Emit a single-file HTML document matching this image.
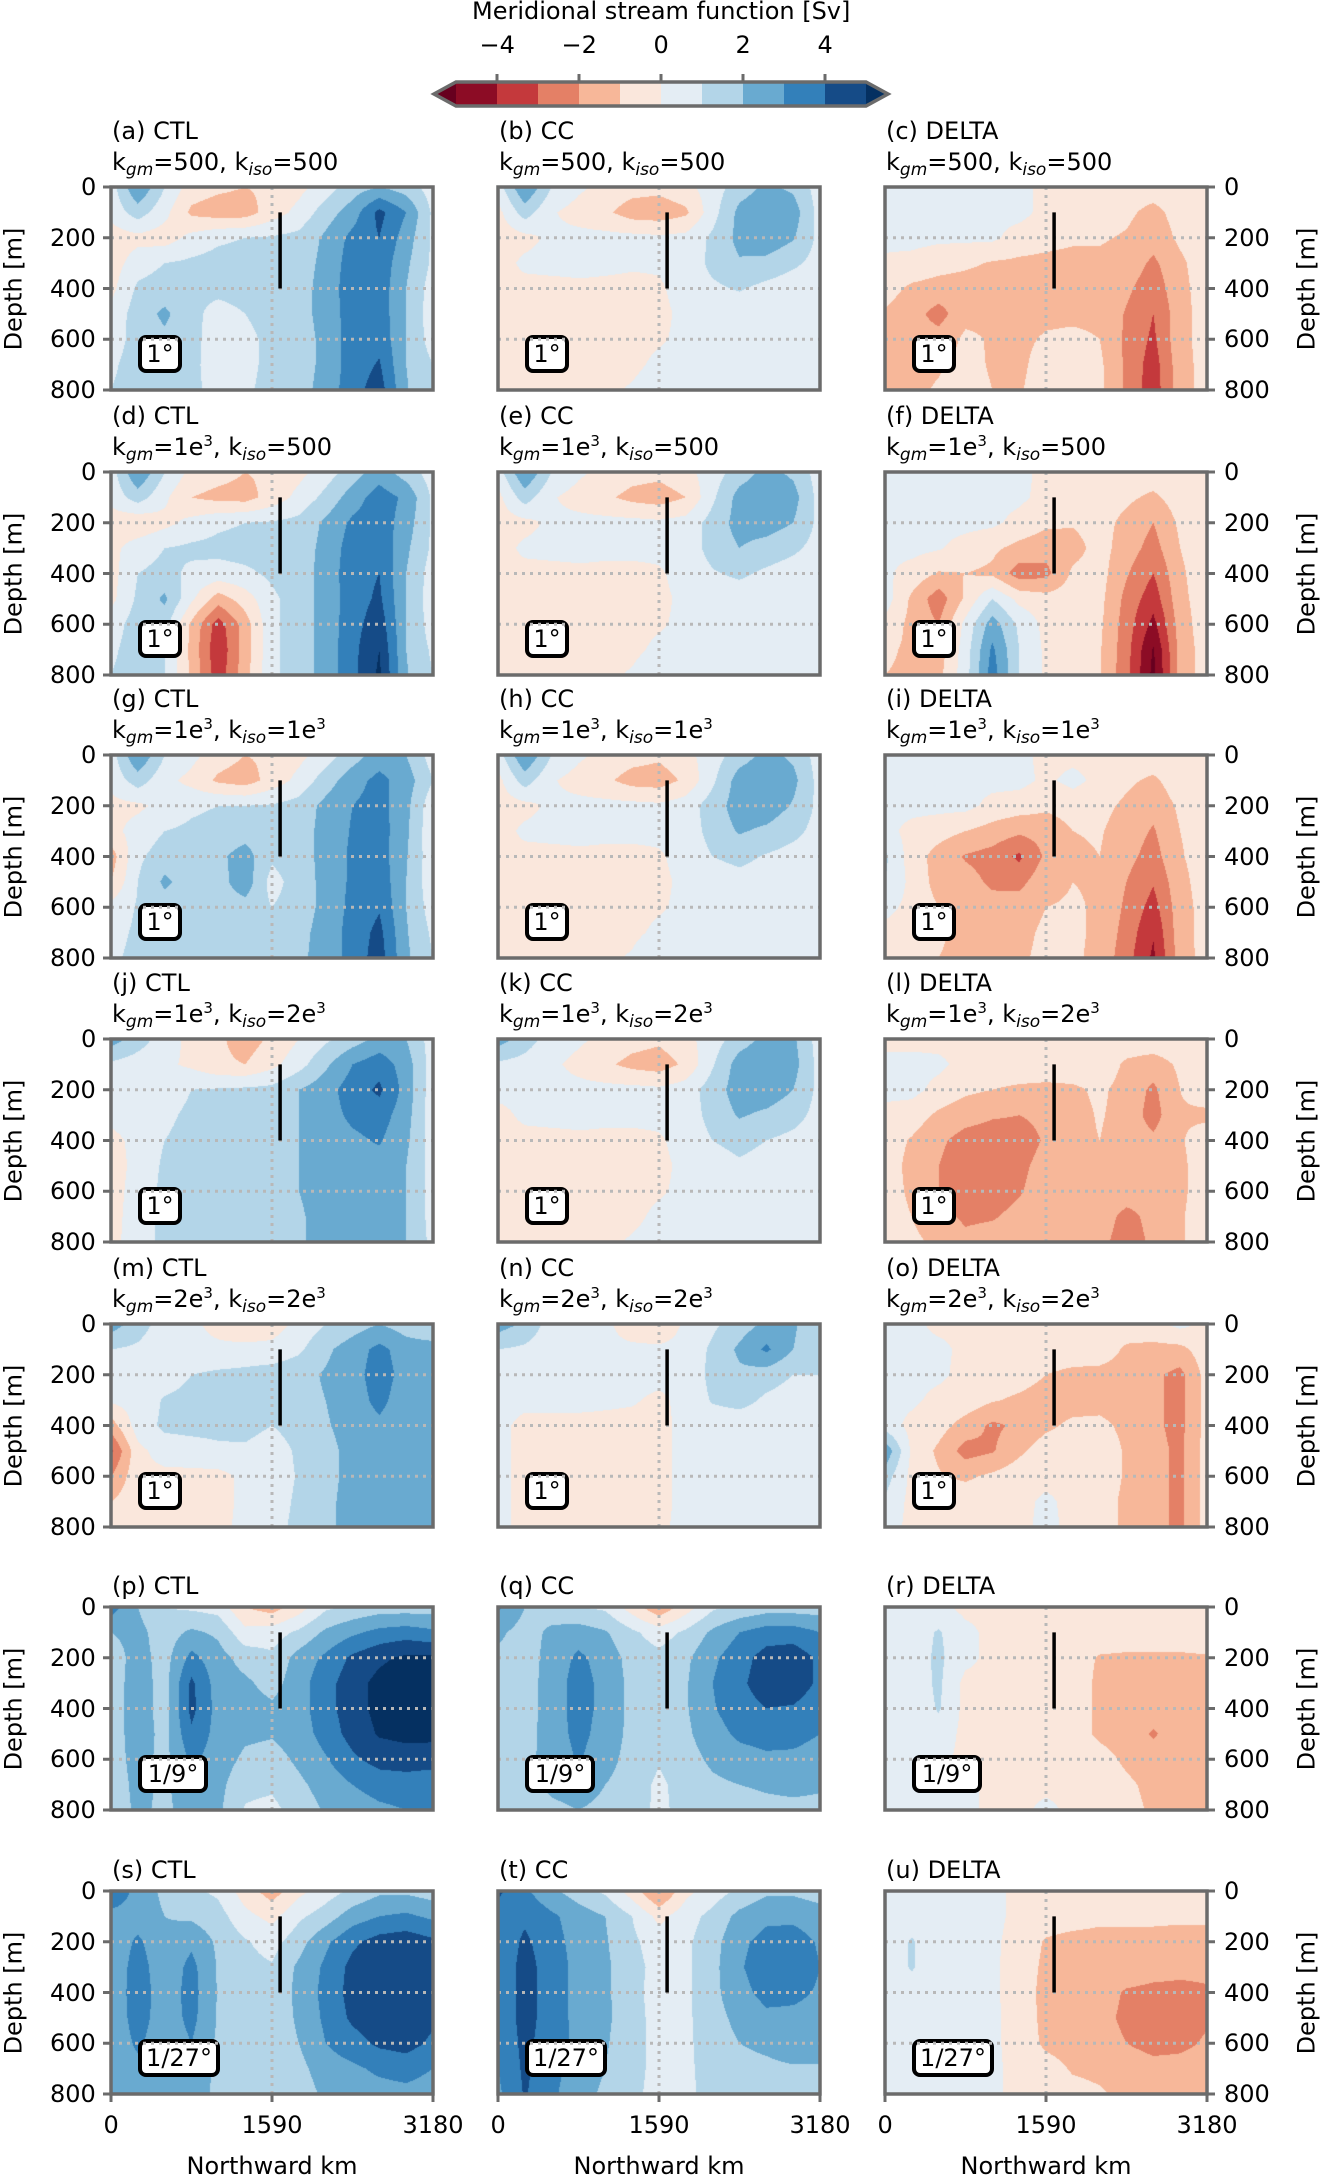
<!DOCTYPE html>
<html><head><meta charset="utf-8">
<style>
html,body{margin:0;padding:0;background:#fff;}
#root{position:relative;width:1321px;height:2180px;overflow:hidden;font-family:"DejaVu Sans","Liberation Sans",sans-serif;color:#000;}
.t{position:absolute;font-size:24px;white-space:nowrap;line-height:1;}
canvas{position:absolute;}
svg{position:absolute;left:0;top:0;}
.box{position:absolute;border:4px solid #000;border-radius:8px;background:#fff;font-size:24px;display:flex;align-items:center;justify-content:center;box-sizing:border-box;}
</style></head>
<body>
<div id="root"></div>
<script>
// ---------- data ----------
const levels=[-5,-4,-3,-2,-1,0,1,2,3,4,5];
const levelColors=['#8c0c25','#c4393c','#e48066','#f7b799','#fae7dc','#e4edf4','#b3d5e8','#69aad0','#3380ba','#154b87'];
const underColor='#67001f', overColor='#053061';
const cbTicks=[-4,-2,0,2,4];
const xTicks=[0,1590,3180];
const yTicks=[0,200,400,600,800];
const gridX=[0,265,530,795,1060,1325,1590,1855,2120,2385,2650,2915,3180];
const gridDepth=[0,100,200,300,400,500,600,700,800];
const panelLetters=['a','b','c','d','e','f','g','h','i','j','k','l','m','n','o','p','q','r','s','t','u'];
const panelKinds=['CTL','CC','DELTA'];
const rowParams=[['500','500'],['1e3','500'],['1e3','1e3'],['1e3','2e3'],['2e3','2e3'],null,null];
const rowRes=['1°','1°','1°','1°','1°','1/9°','1/27°'];
const fA=[[0.5,3,1,-0.5,-0.8,-1,-0.8,-0.3,0.5,1.5,2,1.5,0.5],[0.3,1.5,0.3,-1.2,-1.5,-1.5,-0.5,0.3,1.5,2.5,4.3,3,0.8],[-0.5,-0.3,-0.5,0.3,0.8,1,1.1,1.3,2.2,3.3,4,2.5,0.8],[-0.5,0.5,1,1.2,1.4,1.5,1.5,1.5,2.3,3.5,3.7,2.2,0.8],[-0.3,1.2,1.5,1.2,1.3,1.4,1.5,1.6,2.4,3.6,3.6,2,0.5],[0.3,1.5,2.2,1.3,0.6,1,1.3,1.6,2.4,3.5,3.6,2,0.4],[0.5,1.4,1.8,1.3,0.5,0.8,1.2,1.5,2.3,3.5,3.7,2,0.5],[0.8,1.5,1.4,1.2,0.6,0.8,1.2,1.5,2.3,3.5,4.1,2,1],[1,1.5,1.3,1.2,0.7,0.9,1.2,1.6,2.4,3.6,4.5,2.1,1]];
const fB=[[0.5,3,1,0.2,-0.3,-0.6,-0.7,-0.3,0.5,1.5,2.2,1.8,0.5],[-0.3,1.5,0.1,-0.4,-0.8,-1.5,-1.6,-1.2,0.6,2.3,2.8,2.5,0.6],[-0.6,-0.3,0.2,0.3,0.3,0.3,0.2,0.3,1.2,2.3,2.7,2.1,0.7],[-0.4,0.2,0.3,0.3,0.2,0.1,0.1,0.3,1.3,1.9,1.7,1.2,0.6],[-0.3,-0.3,-0.3,-0.2,-0.2,-0.2,-0.1,0.3,0.8,1.1,0.7,0.4,0.4],[-0.3,-0.4,-0.4,-0.4,-0.3,-0.3,-0.2,0.2,0.3,0.3,0.3,0.3,0.3],[-0.3,-0.4,-0.4,-0.4,-0.3,-0.3,-0.1,0.2,0.3,0.3,0.3,0.3,0.3],[-0.2,-0.3,-0.4,-0.4,-0.3,-0.2,0.2,0.3,0.3,0.3,0.3,0.3,0.3],[-0.2,-0.3,-0.3,-0.3,-0.2,0.1,0.5,0.3,0.3,0.3,0.3,0.3,0.3]];
const fC=[[0.3,0.3,0.3,0.3,0.3,0.3,-0.3,-0.3,-0.3,-0.5,-0.5,-0.3,-0.3],[0.3,0.3,0.3,0.3,0.2,0.3,-0.3,-0.3,-0.5,-0.8,-1.3,-0.6,-0.3],[0.3,0.3,0.2,0.2,0.2,-0.4,-0.6,-0.8,-0.9,-1.1,-1.6,-0.8,-0.4],[-0.2,-0.3,-0.6,-0.8,-1.1,-1.2,-1.3,-1.4,-1.2,-1.4,-2.2,-1.2,-0.4],[-0.6,-1.2,-1.4,-1.5,-1.5,-1.4,-1.3,-1.3,-1.2,-1.8,-2.6,-1.3,-0.5],[-1.1,-1.6,-2.4,-1.3,-1.2,-1.3,-1.2,-1.2,-1.2,-2.1,-3,-1.4,-0.5],[-1.3,-1.5,-1.6,-0.8,-1.1,-1.2,-0.9,-0.8,-1,-2.2,-3.2,-1.3,-0.6],[-1.4,-1.3,-1.1,-0.7,-1.1,-1.2,-0.6,-0.6,-0.8,-2.2,-3.5,-1.4,-0.6],[-1.4,-1.2,-0.9,-0.6,-1,-1.1,-0.5,-0.5,-0.8,-2.2,-3.6,-1.4,-0.6]];
const fD=[[0.5,3,1,-0.3,-0.6,-1,-0.8,-0.3,0.5,1.5,2.5,1.5,0.5],[0.3,1.5,0.2,-1,-1.3,-1.4,-0.6,0.3,1.3,2.5,3.5,2.8,0.8],[-0.5,-0.8,-0.3,0.3,0.8,1,1.1,1.3,2.2,3.2,3.6,2.5,0.8],[-0.3,0.5,1,1.2,1.3,1.4,1.4,1.5,2.3,3.5,3.8,2.2,0.8],[-0.4,1,1.3,0.8,0.6,0.8,1.2,1.5,2.4,3.6,4,2,0.5],[-0.3,1.2,2.2,0.2,-1.5,-0.5,0.8,1.5,2.4,3.5,4.2,2,0.4],[0.5,1.5,1.4,-1.2,-3.5,-1.5,0.8,1.5,2.4,3.6,4.6,2,0.5],[0.8,1.5,1.1,-1.3,-3.8,-1.5,0.8,1.5,2.4,3.7,5,2,0.8],[1,1.5,1,-1.2,-3.6,-1.4,0.8,1.5,2.4,3.7,5.2,2.1,1]];
const fE=[[0.5,3,1,0.2,-0.3,-0.6,-0.7,-0.3,0.5,1.5,2.3,1.8,0.5],[-0.3,1.5,0.1,-0.4,-0.8,-1.3,-1.5,-1,0.8,2.4,2.7,2.4,0.6],[-0.5,-0.3,0.2,0.3,0.3,0.3,0.2,0.4,1.4,2.4,2.5,2,0.7],[-0.4,0.2,0.3,0.3,0.2,0.2,0.2,0.4,1.4,2,1.6,1.2,0.6],[-0.3,-0.3,-0.3,-0.2,-0.2,-0.2,-0.1,0.3,0.9,1.2,0.8,0.5,0.4],[-0.3,-0.4,-0.4,-0.4,-0.3,-0.3,-0.2,0.2,0.3,0.4,0.3,0.3,0.3],[-0.3,-0.4,-0.4,-0.4,-0.3,-0.3,-0.1,0.2,0.3,0.3,0.3,0.3,0.3],[-0.2,-0.3,-0.4,-0.4,-0.3,-0.2,0.2,0.3,0.3,0.3,0.3,0.3,0.3],[-0.2,-0.3,-0.3,-0.3,-0.2,0.1,0.6,0.3,0.3,0.3,0.3,0.3,0.3]];
const fF=[[0.3,0.3,0.3,0.3,0.3,0.3,-0.3,-0.3,-0.3,-0.4,-0.4,-0.3,-0.3],[0.3,0.3,0.3,0.3,0.3,0.2,-0.3,-0.3,-0.4,-0.8,-1.2,-0.5,-0.3],[0.3,0.3,0.3,0.3,0.2,-0.3,-0.8,-0.9,-0.6,-1.3,-2,-0.8,-0.3],[0.2,0.3,0.1,-0.4,-0.8,-1.3,-1.6,-1.4,-0.6,-1.5,-2.4,-1,-0.3],[0.2,-0.4,-1.1,-1,-1.2,-2.5,-2.3,-0.8,-0.6,-1.9,-3,-1.2,-0.3],[0.5,-1.2,-2.6,-0.8,1,-0.3,-0.6,-0.5,-0.7,-2.3,-3.6,-1.3,-0.4],[-0.3,-1.3,-2,0.3,2.5,0.8,-0.3,-0.4,-0.8,-2.5,-4.3,-1.5,-0.4],[-0.8,-1.2,-1.5,0.5,3.2,1,-0.2,-0.4,-0.9,-2.6,-5.1,-1.6,-0.5],[-1,-1.2,-1.3,0.6,3.5,1,-0.2,-0.4,-0.9,-2.7,-5.3,-1.6,-0.5]];
const fG=[[0.5,3,1,0.3,-0.5,-1,-0.8,-0.3,0.5,1.5,2.5,2,0.5],[0.3,1.5,0.3,-0.3,-1.2,-1.5,-0.6,0.3,1.5,2.6,3.3,2.5,1],[-0.3,-0.2,0.3,0.8,1,1,1.1,1.4,2.3,3,3.4,2.3,0.3],[-0.3,0.4,1,1.2,1.4,1.6,1.5,1.6,2.3,3.1,3.5,2.2,0.2],[-1.5,0.8,1.5,1.6,1.8,2.4,1.2,1.6,2.3,3.2,3.5,2.1,0.3],[-1,1,2.2,1.5,1.6,2.6,0.6,1.5,2.3,3.2,3.7,2,0.3],[0.3,1.1,1.5,1.4,1.5,1.6,1,1.5,2.3,3.3,3.9,2,0.5],[0.6,1.2,1.4,1.4,1.5,1.6,1.5,1.7,2.4,3.4,4.3,2.1,0.8],[0.8,1.3,1.4,1.4,1.5,1.6,1.5,1.8,2.4,3.4,4.5,2.2,1]];
const fH=[[0.5,3,1,0.2,-0.3,-0.6,-0.8,-0.3,0.5,1.5,2.3,1.8,0.5],[-0.3,1.5,0.1,-0.4,-0.8,-1.4,-1.5,-0.8,0.8,2.5,2.8,2.3,0.6],[-0.5,-0.3,0.2,0.3,0.3,0.3,0.2,0.5,1.5,2.5,2.6,1.9,0.7],[-0.4,0.2,0.3,0.3,0.2,0.2,0.2,0.4,1.4,2.1,1.8,1.3,0.6],[-0.3,-0.3,-0.3,-0.2,-0.2,-0.2,-0.1,0.3,1,1.3,0.9,0.6,0.4],[-0.3,-0.4,-0.4,-0.4,-0.3,-0.3,-0.2,0.2,0.4,0.6,0.4,0.3,0.3],[-0.3,-0.4,-0.4,-0.4,-0.3,-0.3,-0.1,0.2,0.3,0.3,0.3,0.3,0.3],[-0.2,-0.3,-0.4,-0.4,-0.3,-0.2,0.2,0.3,0.3,0.3,0.3,0.3,0.3],[-0.2,-0.3,-0.3,-0.3,-0.2,0.1,0.8,0.3,0.3,0.3,0.3,0.3,0.3]];
const fI=[[0.3,0.3,0.3,0.3,0.3,0.3,-0.3,-0.3,-0.3,-0.3,-0.3,-0.3,-0.3],[0.3,0.3,0.3,0.3,0.3,0.3,-0.2,0.3,-0.3,-0.8,-1.2,-0.4,-0.3],[0.3,0.3,0.3,0.3,-0.3,-0.5,-0.8,-0.6,-0.7,-1.2,-1.7,-0.8,-0.5],[0.3,-0.3,-0.6,-1,-1.4,-1.8,-1.6,-1,-0.9,-1.5,-2.1,-1,-0.5],[1.2,-0.5,-1.4,-2.1,-2.4,-3.2,-1.8,-1.2,-1,-1.7,-2.4,-1.1,-0.5],[1,-0.3,-1.4,-1.6,-2.2,-2.3,-1.3,-1,-1.1,-2,-2.9,-1.3,-0.5],[0.3,-0.3,-1,-1.4,-1.6,-1.5,-1,-0.9,-1.1,-2.2,-3.4,-1.4,-0.6],[-0.3,-0.5,-0.9,-1.2,-1.3,-1.3,-0.8,-0.8,-1.2,-2.4,-3.9,-1.4,-0.6],[-0.5,-0.7,-1,-1.2,-1.2,-1.2,-0.7,-0.8,-1.3,-2.6,-4.2,-1.5,-0.6]];
const fJ=[[2.5,1.5,0.5,-0.3,-0.8,-1.5,-0.8,0,0.8,1.5,2.3,2,0.5],[0.8,0.5,0.2,-0.2,-0.8,-1,-0.3,0.6,1.8,3,3.6,2.5,0.5],[0.2,0.3,0.5,1,1.1,1.2,1.3,2,2.6,3.5,4.2,2.6,0.4],[0.2,0.3,0.8,1.2,1.3,1.4,1.5,2,2.6,3.2,3.5,2.4,0.4],[-0.2,0.2,1,1.3,1.4,1.5,1.5,2,2.5,2.8,3.1,2.2,0.5],[-0.3,0.2,1.2,1.4,1.4,1.5,1.6,2,2.4,2.6,2.6,2,0.6],[-0.3,0.3,1.3,1.4,1.4,1.5,1.6,2,2.3,2.5,2.4,2,0.6],[-0.3,0.4,1.3,1.4,1.4,1.5,1.6,1.9,2.3,2.4,2.4,2,0.6],[-0.3,0.5,1.3,1.4,1.4,1.5,1.6,1.9,2.3,2.4,2.4,2,0.7]];
const fK=[[2.5,1.5,0.5,0.2,-0.3,-0.6,-0.8,-0.3,0.5,1.5,2.3,2.2,0.5],[0.8,0.6,0.2,-0.3,-0.8,-1.3,-1.5,-0.8,0.9,2.5,2.8,2.4,0.6],[0.3,0.3,0.3,0.3,0.3,0.3,0.2,0.5,1.5,2.5,2.6,2,0.7],[-0.3,0.2,0.3,0.3,0.2,0.2,0.2,0.4,1.4,2.1,1.8,1.4,0.6],[-0.3,-0.3,-0.3,-0.2,-0.2,-0.2,-0.1,0.3,1,1.4,1,0.7,0.4],[-0.3,-0.4,-0.4,-0.4,-0.3,-0.3,-0.2,0.2,0.4,0.8,0.5,0.3,0.3],[-0.3,-0.4,-0.4,-0.4,-0.3,-0.3,-0.1,0.2,0.3,0.3,0.3,0.3,0.3],[-0.2,-0.3,-0.4,-0.4,-0.3,-0.2,0.2,0.3,0.3,0.3,0.3,0.3,0.3],[-0.2,-0.3,-0.3,-0.3,-0.2,0.1,0.3,0.3,0.3,0.3,0.3,0.3,0.3]];
const fL=[[-0.3,-0.3,-0.3,-0.3,-0.3,-0.3,-0.3,-0.3,-0.3,-0.3,-0.3,-0.3,-0.3],[0.3,0.3,0.2,-0.3,-0.3,-0.3,-0.3,-0.3,-0.3,-1.2,-1.5,-0.8,-0.3],[0.3,0.3,-0.3,-0.8,-1,-1.2,-1.3,-1.2,-0.8,-1.4,-2.2,-1,-0.5],[-0.3,-0.5,-1.2,-1.6,-1.9,-2,-1.8,-1.4,-0.9,-1.4,-2.4,-1.1,-1.2],[-0.5,-1.1,-1.8,-2.4,-2.5,-2.4,-1.9,-1.3,-1,-1.5,-1.8,-1.1,-0.5],[-0.5,-1.3,-2,-2.6,-2.6,-2.2,-1.7,-1.2,-1.1,-1.5,-1.6,-1.2,-0.5],[-0.5,-1.2,-2,-2.5,-2.5,-2.1,-1.5,-1.2,-1.1,-1.5,-1.6,-1.2,-0.5],[-0.5,-1,-1.6,-2.2,-2.1,-1.7,-1.2,-1.1,-1.5,-2.3,-1.7,-1.1,-0.5],[-0.5,-0.8,-1.2,-1.7,-1.5,-1.3,-1,-1,-1.7,-2.5,-1.8,-1.1,-0.5]];
const fM=[[2.5,1.5,0.5,0.2,-0.3,-0.8,-0.5,0.3,1,1.5,2,1.5,1],[1,0.8,0.3,0.2,0.2,0.3,0.3,0.8,1.8,2.5,3.3,2.5,2.5],[0.3,0.3,0.5,1,1.2,1.3,1.5,1.7,2.1,2.6,3.5,2.6,2.7],[0.2,0.4,1.1,1.3,1.4,1.4,1.5,1.7,2,2.5,3.3,2.4,2.7],[-1.5,0.5,1.2,1.3,1.3,1.4,1.0,1.5,1.9,2.4,2.8,2.3,2.7],[-3.2,-0.3,0.5,0.6,0.8,0.8,0.4,1.2,1.7,2.3,2.5,2.2,2.7],[-2,-0.3,-0.3,-0.3,-0.3,0.2,0.4,1.1,1.7,2.3,2.5,2.2,2.7],[-1,-0.3,-0.3,-0.3,-0.3,0.2,0.5,1.2,1.8,2.3,2.5,2.2,2.7],[-0.8,-0.3,-0.3,-0.3,-0.3,0.3,0.6,1.3,1.8,2.3,2.5,2.2,2.7]];
const fN=[[2.5,1.8,0.5,0.2,0.2,-0.5,-0.8,0.2,0.8,1.5,2.2,2.2,1],[1,0.8,0.3,0.2,0.2,0.2,0.2,0.3,1.2,2.2,3.2,2,1],[0.3,0.3,0.3,0.3,0.3,0.3,0.3,0.3,1.3,1.8,1.5,1,1],[0.3,0.3,0.3,0.3,0.2,0.1,-0.2,0.3,1.1,1.4,0.8,0.5,0.8],[0.3,-0.3,-0.3,-0.3,-0.3,-0.3,-0.3,0.3,0.4,0.3,0.3,0.3,0.3],[0.3,-0.3,-0.4,-0.4,-0.4,-0.4,-0.3,0.3,0.3,0.3,0.3,0.3,0.3],[0.3,-0.3,-0.4,-0.4,-0.4,-0.4,-0.3,0.3,0.3,0.3,0.3,0.3,0.3],[0.3,-0.3,-0.4,-0.4,-0.4,-0.4,-0.3,0.3,0.3,0.3,0.3,0.3,0.3],[0.3,-0.3,-0.3,-0.3,-0.3,-0.3,-0.2,0.3,0.3,0.3,0.3,0.3,0.3]];
const fO=[[0.3,0.3,-0.3,-0.3,-0.3,-0.3,-0.3,-0.3,-0.3,-0.3,-0.3,0.3,-0.3],[0.3,0.3,0.3,-0.3,-0.3,-0.3,-0.3,-0.3,-0.3,-1.2,-1.3,-1.3,-0.4],[0.3,0.3,0.2,-0.3,-0.3,-0.5,-1,-1.3,-1.4,-1.5,-1.8,-2.3,-0.6],[0.3,0.2,-0.3,-0.4,-0.9,-1.2,-1.5,-1.4,-1.3,-1.4,-1.8,-2.3,-0.6],[0.5,-0.3,-0.6,-1.4,-2.2,-1.8,-1.2,-0.8,-0.8,-1.2,-1.8,-2.3,-0.6],[2.8,-0.2,-1.2,-2.4,-2.1,-1.2,-0.5,-0.4,-0.5,-1.1,-1.7,-2.2,-0.6],[1.5,-0.3,-0.9,-1.2,-0.8,-0.4,-0.3,-0.3,-0.5,-1.1,-1.7,-2.2,-0.6],[0.8,-0.3,-0.3,-0.3,-0.3,-0.3,0.2,-0.3,-0.6,-1.2,-1.7,-2.2,-0.6],[0.5,-0.3,-0.3,-0.3,-0.3,-0.3,0.3,-0.3,-0.6,-1.2,-1.7,-2.2,-0.6]];
const fP=[[3.5,2,1,0.8,0.6,-1,-1.5,-0.5,0.8,1.2,1.5,1.5,1.5],[2,2.3,1.5,2.2,1.8,0.3,0.5,1.2,2.2,2.8,3.3,3.5,3.2],[1.5,2.4,1.6,3.3,2.4,1.6,1.2,2.4,3.2,4.2,4.8,5.2,5.2],[1.5,2.5,1.6,4.2,2.5,2.2,1.6,2.6,3.6,4.6,5.3,5.6,5.5],[1.5,2.5,1.6,4.3,2.6,2.5,2.2,2.6,3.6,4.6,5.3,5.6,5.6],[1.5,2.5,1.7,3.8,2.6,2.2,2.1,2.5,3.4,4.4,5.1,5.3,5.3],[1.5,2.4,1.7,3.2,2.5,1.8,1.6,2.2,2.9,3.8,4.4,4.5,4.4],[1.4,2.3,1.8,2.7,2.3,1.3,1.2,1.8,2.4,3,3.4,3.5,3.4],[1.4,2.2,1.8,2.4,2.2,0.9,0.7,1.5,2.1,2.5,2.8,3,3]];
const fQ=[[3.2,2,1.5,1,0.8,-0.5,-1.8,-0.5,0.8,1.2,1.5,1.5,1.5],[2.2,1.6,2.2,2.5,2.1,1.2,0.5,1.2,2.2,3,3.5,3.5,3],[1.8,1.5,2.4,3.2,2.6,1.6,1.3,1.8,2.8,3.6,4.4,4.6,3.8],[1.6,1.5,2.5,3.4,2.7,1.7,1.4,1.9,3,3.8,4.5,4.6,3.8],[1.6,1.5,2.5,3.4,2.7,1.7,1.4,1.9,2.9,3.6,4,3.9,3.4],[1.6,1.6,2.5,3.3,2.6,1.7,1.3,1.8,2.6,3.2,3.4,3.3,3],[1.6,1.7,2.4,3.1,2.4,1.6,1.1,1.6,2.2,2.6,2.8,2.8,2.6],[1.6,1.7,2.2,2.4,2,1.5,0.8,1.4,1.8,2,2.1,2.2,2.1],[1.6,1.6,1.8,2,1.8,1.4,0.8,1.3,1.6,1.7,1.8,1.8,1.8]];
const fR=[[0.3,0.3,0.3,-0.3,-0.3,-0.3,-0.3,-0.3,-0.3,-0.3,-0.3,-0.3,-0.3],[0.3,0.5,1.1,0.3,-0.3,-0.3,-0.3,-0.3,-0.3,-0.3,-0.3,-0.3,-0.3],[0.3,0.5,1.2,0.3,-0.3,-0.3,-0.3,-0.5,-1.1,-1.2,-1.2,-1.2,-1.1],[0.3,0.4,1.2,-0.3,-0.3,-0.3,-0.8,-0.5,-1.2,-1.3,-1.3,-1.3,-1.2],[0.3,0.3,1.1,-0.3,-0.3,-0.3,-0.8,-0.5,-1.2,-1.4,-1.6,-1.4,-1.3],[0.3,0.3,0.6,-0.3,-0.3,-0.3,-0.7,-0.5,-1.2,-1.5,-2.1,-1.5,-1.3],[0.3,0.3,0.3,-0.3,-0.3,-0.3,-0.6,-0.4,-0.6,-1.2,-1.6,-1.4,-1.3],[0.3,0.3,0.3,0.3,-0.3,-0.3,-0.3,-0.3,-0.4,-0.8,-1.3,-1.3,-1.2],[0.3,0.3,0.3,0.3,-0.3,-0.3,0.3,-0.3,-0.4,-0.6,-1.2,-1.2,-1.2]];
const fS=[[4.2,2.5,1.8,1.2,0.8,-0.5,-1.5,-0.3,0.5,1.2,1.8,1.8,1.5],[2.5,2.5,2,1.8,1.4,0.3,-0.3,0.8,1.5,2.5,3,3.2,2.8],[2.2,3.2,2.2,2.8,1.8,1.1,0.6,1.6,2.8,3.8,4.4,4.6,4.2],[2.2,3.5,2.3,3.3,1.9,1.3,1.1,2.2,3.2,4.3,4.8,5,4.5],[2.2,3.6,2.4,3.4,1.9,1.3,1.2,2.3,3.3,4.4,4.8,4.9,4.5],[2.2,3.5,2.4,3.3,1.9,1.3,1.2,2.2,3.2,4.2,4.6,4.6,4.2],[2.2,3.2,2.3,3,1.8,1.2,1.2,2,3,3.6,4.2,4.4,3.8],[2.2,2.7,2.2,2.6,1.8,1.1,1.2,1.7,2.5,2.8,3.2,3.4,3],[2.2,2.5,2.2,2.4,1.8,1,1.2,1.5,2.2,2.5,2.6,2.7,2.5]];
const fT=[[4.2,3.2,2.2,1.5,0.8,-0.5,-2.2,-0.3,0.5,1.2,1.8,1.8,1.5],[3.5,3.8,3.2,2.5,2,1,-0.3,0.6,1.3,2.3,2.8,2.8,2.5],[3.2,4.2,3.4,2.6,2.1,1.2,0.5,0.8,1.6,2.8,3.3,3.4,2.9],[3.2,4.4,3.5,2.7,2.2,1.3,0.7,0.8,1.7,2.9,3.5,3.5,3],[3.2,4.4,3.5,2.7,2.2,1.3,0.6,0.8,1.7,2.7,3.3,3.2,2.9],[3.2,4.4,3.5,2.7,2.2,1.4,0.6,0.8,1.6,2.3,2.8,2.8,2.7],[3.1,4.3,3.4,2.8,2.1,1.4,0.6,0.8,1.5,2,2.2,2.5,2.5],[3,4.2,3.3,2.6,2,1.3,0.7,0.8,1.4,1.7,1.8,1.9,1.9],[2.8,4.1,3.2,2.4,1.8,1.2,0.7,0.8,1.3,1.5,1.6,1.6,1.6]];
const fU=[[0.3,0.3,0.3,0.3,0.3,-0.3,-0.3,-0.3,-0.3,-0.3,-0.3,-0.3,-0.3],[0.3,0.5,0.3,0.3,0.3,-0.3,-0.5,-0.6,-0.8,-0.8,-0.8,-0.8,-0.8],[0.3,1.1,0.3,0.3,0.2,-0.4,-1.1,-1.3,-1.3,-1.3,-1.3,-1.4,-1.4],[0.3,1.1,0.3,0.3,0.2,-0.5,-1.2,-1.4,-1.4,-1.5,-1.7,-1.8,-1.8],[0.3,0.5,0.3,0.3,0.2,-0.5,-1.3,-1.5,-1.6,-2.1,-2.2,-2.2,-2.1],[0.3,0.3,0.3,0.3,0.2,-0.4,-1.3,-1.5,-1.7,-2.2,-2.3,-2.3,-2.1],[0.3,0.3,0.3,0.3,0.2,-0.4,-1.2,-1.4,-1.6,-2,-2.3,-2.2,-1.9],[0.3,0.3,0.3,0.3,0.2,-0.3,-0.6,-1.1,-1.2,-1.5,-1.7,-1.7,-1.6],[0.3,0.3,0.3,0.3,0.2,-0.3,-0.4,-0.7,-0.9,-1.2,-1.4,-1.4,-1.3]];
const fields=[fA,fB,fC,fD,fE,fF,fG,fH,fI,fJ,fK,fL,fM,fN,fO,fP,fQ,fR,fS,fT,fU];
const sectionKm=[1670,100,400]; // black marker: x km, top depth, bottom depth

// ---------- layout ----------
const root=document.getElementById('root');
const colLeft=[111,498,885], rowTop=[187,472,755,1039,1324,1607,1891];
const PW=322, PH=203, XMAX=3180, DMAX=800;
const xs=(km,c)=>colLeft[c]+km/XMAX*PW;
const ys=(d,r)=>rowTop[r]+d/DMAX*PH;
function colorOf(v){ if(v<levels[0]) return underColor; if(v>=levels[levels.length-1]) return overColor;
  let i=0; while(i<levels.length-1 && v>=levels[i+1]) i++; return levelColors[i]; }
function sample(f,km,d){
  let gx=km/gridX[gridX.length-1]*(gridX.length-1), gy=d/gridDepth[gridDepth.length-1]*(gridDepth.length-1);
  let i=Math.min(Math.floor(gx),gridX.length-2), j=Math.min(Math.floor(gy),gridDepth.length-2);
  let tx=gx-i, ty=gy-j;
  return (f[j][i]*(1-tx)+f[j][i+1]*tx)*(1-ty)+(f[j+1][i]*(1-tx)+f[j+1][i+1]*tx)*ty;
}
function hexRGB(h){return [parseInt(h.substr(1,2),16),parseInt(h.substr(3,2),16),parseInt(h.substr(5,2),16)];}
function text(str,x,y,anchor,name,extra){
  const el=document.createElement('div'); el.className='t'; el.innerHTML=str;
  
  
  root.appendChild(el);
  const w=el.offsetWidth,h=el.offsetHeight;
  let lx=x; if(anchor==='middle') lx=x-w/2; else if(anchor==='end') lx=x-w;
  el.style.left=lx+'px'; el.style.top=(y-h/2)+'px';
  if(extra) extra(el);
  return el;
}
const NS='http://www.w3.org/2000/svg';
const svg=document.createElementNS(NS,'svg'); svg.setAttribute('width',1321); svg.setAttribute('height',2180);


function sv(tag,attrs,name){const e=document.createElementNS(NS,tag);for(const k in attrs)e.setAttribute(k,attrs[k]);
  
  
  svg.appendChild(e);return e;}

// panels
for(let p=0;p<21;p++){
  const r=Math.floor(p/3), c=p%3, f=fields[p];
  const cv=document.createElement('canvas'); cv.width=PW; cv.height=PH;
  cv.style.left=colLeft[c]+'px'; cv.style.top=rowTop[r]+'px';
  
  
  const ctx=cv.getContext('2d'); const img=ctx.createImageData(PW,PH);
  const cache={};
  for(let y=0;y<PH;y++)for(let x=0;x<PW;x++){
    const v=sample(f,(x+0.5)/PW*XMAX,(y+0.5)/PH*DMAX); const col=colorOf(v);
    const rgb=cache[col]||(cache[col]=hexRGB(col)); const k=(y*PW+x)*4;
    img.data[k]=rgb[0];img.data[k+1]=rgb[1];img.data[k+2]=rgb[2];img.data[k+3]=255;}
  ctx.putImageData(img,0,0); root.appendChild(cv);
  for(const d of [200,400,600]) sv('line',{x1:colLeft[c],x2:colLeft[c]+PW,y1:ys(d,r),y2:ys(d,r),stroke:'#b8b8b8','stroke-width':3,'stroke-dasharray':'3,5'},'gridline-depth-'+d);
  sv('line',{x1:xs(1590,c),x2:xs(1590,c),y1:rowTop[r],y2:rowTop[r]+PH,stroke:'#b8b8b8','stroke-width':3,'stroke-dasharray':'3,5'},'gridline-1590km');
  sv('line',{x1:xs(sectionKm[0],c),x2:xs(sectionKm[0],c),y1:ys(sectionKm[1],r),y2:ys(sectionKm[2],r),stroke:'#000','stroke-width':3.5},'section-marker');
  sv('rect',{x:colLeft[c],y:rowTop[r],width:PW,height:PH,fill:'none',stroke:'#6b6b6b','stroke-width':3.5},'panel-frame');
  if(c===0||c===2){
    for(const d of yTicks){
      const x0=c===0?colLeft[c]-8:colLeft[c]+PW, x1=c===0?colLeft[c]:colLeft[c]+PW+8;
      sv('line',{x1:x0,x2:x1,y1:ys(d,r),y2:ys(d,r),stroke:'#6b6b6b','stroke-width':3},'y-tick');
      if(c===0) text(String(d),colLeft[c]-15,ys(d,r),'end','y-tick-label');
      else text(String(d),colLeft[c]+PW+17,ys(d,r),'start','y-tick-label');
    }
    const yl=text('Depth [m]',0,rowTop[r]+PH/2,'middle',c===0?'y-axis-title':'y-axis-title-right');
    const w=yl.offsetWidth; yl.style.left=((c===0?13:1306)-w/2)+'px'; yl.style.transform='rotate(-90deg)';
  }
  if(r===6){
    for(const km of xTicks){
      sv('line',{x1:xs(km,c),x2:xs(km,c),y1:rowTop[r]+PH,y2:rowTop[r]+PH+8,stroke:'#6b6b6b','stroke-width':3},'x-tick');
      text(String(km),xs(km,c),2125,'middle','x-tick-label');
    }
    text('Northward km',colLeft[c]+PW/2,2166,'middle','x-axis-title');
  }
  if(rowParams[r]){
    text('('+panelLetters[p]+') '+panelKinds[c],colLeft[c]+1,rowTop[r]-56,'start','panel-title');
    const pr=rowParams[r];
    const fmt=s=>s.indexOf('e')>0?s.replace('e3','e<sup style="font-size:15px;vertical-align:9px;line-height:0">3</sup>'):s;
    text('k<sub style="font-size:17px;font-style:italic;vertical-align:-5px;line-height:0">gm</sub>='+fmt(pr[0])+', k<sub style="font-size:17px;font-style:italic;vertical-align:-5px;line-height:0">iso</sub>='+fmt(pr[1]),colLeft[c]+1,rowTop[r]-25,'start','panel-params');
  } else {
    text('('+panelLetters[p]+') '+panelKinds[c],colLeft[c]+1,rowTop[r]-21,'start','panel-title');
  }
  const b=document.createElement('div'); b.className='box'; b.textContent=rowRes[r];
  const bw=rowRes[r]==='1°'?44:(rowRes[r]==='1/9°'?70:82);
  b.style.left=(colLeft[c]+27)+'px'; b.style.top=(rowTop[r]+148)+'px'; b.style.width=bw+'px'; b.style.height='38px';
  
  
  root.appendChild(b);
}

// colorbar
const cbX=v=>661+v*41, cbY0=82, cbY1=106;
for(let i=0;i<levelColors.length;i++)
  sv('rect',{x:cbX(levels[i]),y:cbY0,width:cbX(levels[i+1])-cbX(levels[i])+0.5,height:cbY1-cbY0,fill:levelColors[i]},'colorbar-segment');
sv('polygon',{points:`${cbX(-5)},${cbY0} ${cbX(-5)-22},${(cbY0+cbY1)/2} ${cbX(-5)},${cbY1}`,fill:underColor},'colorbar-extend-low');
sv('polygon',{points:`${cbX(5)},${cbY0} ${cbX(5)+22},${(cbY0+cbY1)/2} ${cbX(5)},${cbY1}`,fill:overColor},'colorbar-extend-high');
sv('polygon',{points:`${cbX(-5)},${cbY0} ${cbX(5)},${cbY0} ${cbX(5)+22},${(cbY0+cbY1)/2} ${cbX(5)},${cbY1} ${cbX(-5)},${cbY1} ${cbX(-5)-22},${(cbY0+cbY1)/2}`,fill:'none',stroke:'#6b6b6b','stroke-width':3.5},'colorbar-outline');
for(const t of cbTicks){
  sv('line',{x1:cbX(t),x2:cbX(t),y1:cbY0-8,y2:cbY0,stroke:'#6b6b6b','stroke-width':3},'colorbar-tick');
  text(t<0?'\u2212'+Math.abs(t):String(t),cbX(t),45,'middle','colorbar-tick-label');
}
text('Meridional stream function [Sv]',661,11,'middle','colorbar-title');
root.appendChild(svg);
</script>
</body></html>
